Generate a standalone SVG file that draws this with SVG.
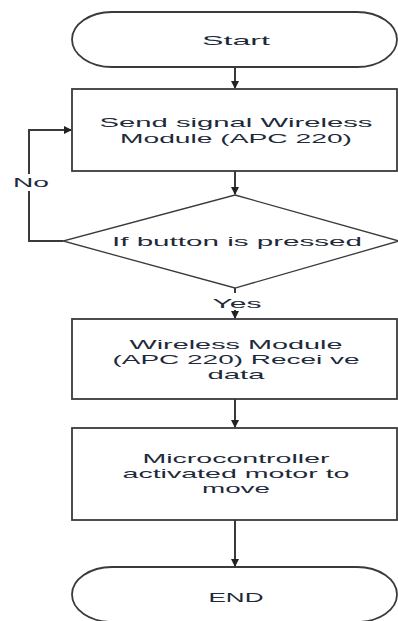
<svg xmlns="http://www.w3.org/2000/svg" width="398" height="621" viewBox="0 0 398 621">
<defs>
<style>
.shape{fill:#fff;stroke:#3a3a3a;stroke-width:1.8}
.dia{fill:#fff;stroke:#3a3a3a;stroke-width:1.3}
.conn{fill:none;stroke:#3a3a3a;stroke-width:2}
.t{font-family:"Liberation Sans",Arial,sans-serif;font-size:13px;fill:#1e2a3a;text-anchor:middle}
.lbl{fill:#fff}
</style>
<marker id="ah" markerWidth="8" markerHeight="8" refX="7" refY="4" orient="auto" markerUnits="userSpaceOnUse">
<path d="M0,0 L8,4 L0,8 Z" fill="#222"/>
</marker>
</defs>
<rect width="398" height="621" fill="#fff"/>
<g id="connectors">
<line class="conn" x1="235" y1="67" x2="235" y2="88" marker-end="url(#ah)"/>
<line class="conn" x1="235" y1="171" x2="235" y2="194" marker-end="url(#ah)"/>
<line class="conn" x1="235" y1="288" x2="235" y2="318" marker-end="url(#ah)"/>
<line class="conn" x1="235" y1="399" x2="235" y2="427" marker-end="url(#ah)"/>
<line class="conn" x1="235" y1="520" x2="235" y2="566" marker-end="url(#ah)"/>
<polyline class="conn" points="63,241 29,241 29,130 71,130" marker-end="url(#ah)"/>
<rect class="lbl" x="10" y="174" width="42" height="17"/>
<text class="t" x="31" y="187" textLength="36" lengthAdjust="spacingAndGlyphs">No</text>
<rect class="lbl" x="209" y="293" width="56" height="17"/>
<text class="t" x="237" y="308" textLength="49" lengthAdjust="spacingAndGlyphs">Yes</text>
</g>
<g id="start">
<path class="shape" d="M112,12 L357,12 A40,27.5 0 0 1 357,67 L112,67 A40,27.5 0 0 1 112,12 Z"/>
<text class="t" x="236" y="45" textLength="68" lengthAdjust="spacingAndGlyphs">Start</text>
</g>
<g id="send">
<rect class="shape" x="72" y="89" width="325" height="82"/>
<text class="t" x="236" y="127" textLength="273" lengthAdjust="spacingAndGlyphs">Send signal  Wireless</text>
<text class="t" x="236" y="143" textLength="232" lengthAdjust="spacingAndGlyphs">Module (APC 220)</text>
</g>
<g id="decision">
<polygon class="dia" points="235,195 399,241 235,288 63,241"/>
<text class="t" x="237" y="246" textLength="250" lengthAdjust="spacingAndGlyphs">If  button is pressed</text>
</g>
<g id="receive">
<rect class="shape" x="72" y="319" width="325" height="80"/>
<text class="t" x="236" y="349" textLength="213" lengthAdjust="spacingAndGlyphs">Wireless Module</text>
<text class="t" x="236" y="364" textLength="247" lengthAdjust="spacingAndGlyphs">(APC 220) Recei ve</text>
<text class="t" x="236" y="379" textLength="57" lengthAdjust="spacingAndGlyphs">data</text>
</g>
<g id="micro">
<rect class="shape" x="72" y="428" width="325" height="92"/>
<text class="t" x="236" y="463" textLength="187" lengthAdjust="spacingAndGlyphs">Microcontroller</text>
<text class="t" x="236" y="478" textLength="227" lengthAdjust="spacingAndGlyphs">activated motor to</text>
<text class="t" x="236" y="493" textLength="68" lengthAdjust="spacingAndGlyphs">move</text>
</g>
<g id="end">
<path class="shape" d="M112,567 L357,567 A40,27.5 0 0 1 357,622 L112,622 A40,27.5 0 0 1 112,567 Z"/>
<text class="t" x="236" y="602" textLength="55" lengthAdjust="spacingAndGlyphs">END</text>
</g>
</svg>
